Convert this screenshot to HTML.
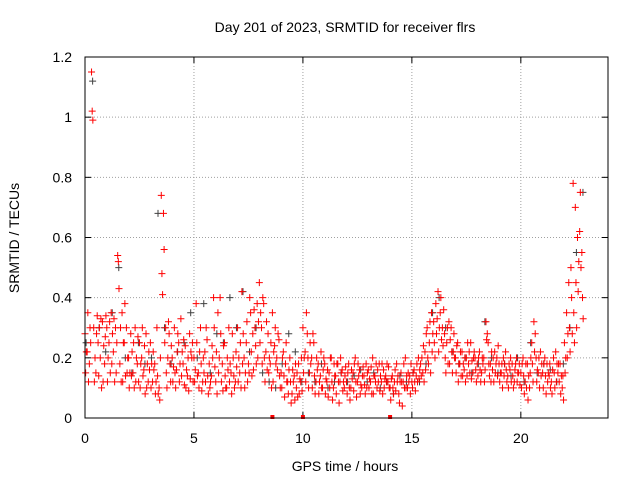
<!DOCTYPE html>
<html><head><meta charset="utf-8"><style>
html,body{margin:0;padding:0;background:#fff}
svg{display:block;font-family:"Liberation Sans",sans-serif}
</style></head><body>
<svg id="chart" width="640" height="480">
<text x="345" y="32" font-size="14" text-anchor="middle">Day 201 of 2023, SRMTID for receiver flrs</text>
<text x="345" y="471" font-size="14" text-anchor="middle">GPS time / hours</text>
<text transform="translate(19,238) rotate(-90)" font-size="14" text-anchor="middle">SRMTID / TECUs</text>
<g id="grid"></g><g id="ticks"></g><g id="marks"></g>
<rect x="85" y="57" width="523" height="361" fill="none" stroke="#000" stroke-width="1"/>
</svg>
<script>
const xTicks=[0,5,10,15,20];
const yTicks=[0,0.2,0.4,0.6,0.8,1,1.2];
const yTickLabels=["0","0.2","0.4","0.6","0.8","1","1.2"];
const redStep=0.1;
const redA=[.28,.22,.18,1.15,.30,.15,.25,.20,.32,.18, .30,.25,.35,.22,.30,.54,.18,.35,.25,.30, .20,.28,.15,.30,.18,.25,.20,.16,.28,.12, .25,.12,.18,.30,.10,.74,.68,.30,.20,.18, .20,.30,.16,.25,.33,.18,.24,.14,.28,.20, .20,.38,.15,.30,.12,.22,.26,.18,.14,.40, .12,.35,.40,.18,.25,.10,.30,.15,.20,.12, .30,.15,.42,.20,.25,.18,.35,.28,.30,.38, .45,.30,.38,.22,.28,.18,.35,.24,.20,.26, .15,.22,.18,.12,.20,.08,.14,.10,.18,.12, .30,.22,.28,.15,.20,.25,.12,.18,.14,.10, .18,.12,.15,.20,.10,.14,.18,.12,.16,.10, .12,.18,.10,.15,.20,.12,.16,.10,.14,.18, .16,.12,.20,.14,.10,.18,.12,.16,.14,.12, .10,.14,.12,.18,.08,.15,.12,.20,.10,.14, .12,.16,.14,.20,.18,.15,.22,.30,.25,.35, .32,.38,.42,.35,.30,.28,.25,.32,.30,.22, .20,.25,.18,.22,.16,.20,.18,.25,.15,.20, .18,.22,.15,.20,.32,.25,.18,.16,.22,.20, .18,.15,.20,.22,.14,.16,.18,.12,.20,.15, .15,.20,.12,.18,.10,.25,.32,.20,.15,.22, .15,.20,.18,.14,.12,.20,.22,.15,.18,.10, .25,.35,.45,.50,.78,.70,.60,.62,.55];
const redB=[.15,.35,.30,1.02,.12,.28,.14,.33,.12,.27, .12,.32,.18,.33,.15,.52,.30,.12,.38,.15, .10,.14,.25,.12,.27,.10,.30,.24,.10,.22, .10,.22,.08,.14,.06,.48,.56,.15,.32,.12, .12,.15,.22,.12,.14,.26,.10,.20,.13,.25, .12,.25,.10,.18,.20,.12,.14,.10,.24,.30, .22,.15,.28,.09,.14,.20,.12,.08,.14,.22, .12,.25,.18,.10,.32,.15,.22,.16,.24,.20, .25,.18,.20,.32,.15,.25,.12,.30,.16,.14, .10,.14,.25,.08,.12,.16,.06,.15,.08,.20, .15,.12,.20,.25,.10,.14,.20,.08,.22,.16, .08,.16,.10,.12,.18,.08,.12,.20,.09,.14, .08,.10,.16,.09,.12,.18,.08,.14,.11,.10, .10,.17,.08,.12,.16,.09,.18,.10,.12,.17, .06,.10,.16,.12,.05,.12,.18,.10,.15,.08, .10,.12,.18,.13,.14,.24,.16,.20,.32,.22, .25,.28,.22,.40,.24,.20,.30,.18,.22,.28, .15,.12,.22,.14,.20,.14,.22,.13,.20,.16, .14,.16,.20,.12,.26,.18,.12,.20,.15,.14, .12,.18,.14,.16,.10,.20,.14,.16,.12,.18, .10,.14,.18,.06,.15,.18,.22,.12,.20,.14, .10,.14,.12,.18,.08,.15,.12,.18,.08,.14, .15,.20,.30,.40,.35,.45,.42,.75,.40];
const redC=[.22,.12,.25,.99,.20,.34,.30,.10,.24,.34, .20,.15,.28,.12,.25,.43,.12,.25,.14,.20, .15,.22,.10,.20,.12,.18,.14,.08,.18,.16, .18,.16,.12,.08,.20,.41,.25,.10,.28,.24, .17,.10,.28,.18,.22,.11,.16,.09,.22,.12, .16,.14,.22,.09,.15,.30,.08,.12,.20,.17, .08,.20,.12,.24,.10,.16,.18,.28,.10,.17, .20,.10,.28,.15,.12,.40,.14,.36,.18,.32, .35,.40,.12,.16,.20,.10,.22,.18,.28,.10, .20,.07,.12,.16,.05,.12,.18,.07,.13,.09, .20,.35,.10,.18,.28,.08,.16,.12,.10,.20, .13,.07,.20,.06,.14,.18,.05,.15,.12,.17, .15,.06,.13,.18,.07,.14,.11,.17,.08,.15, .13,.08,.14,.18,.12,.14,.08,.13,.18,.10, .13,.08,.09,.14,.12,.04,.10,.14,.12,.18, .15,.09,.12,.16,.20,.12,.28,.18,.15,.28, .20,.33,.30,.26,.36,.15,.18,.26,.15,.20, .24,.18,.14,.18,.12,.25,.15,.19,.22,.12, .20,.12,.18,.16,.28,.14,.22,.12,.18,.24, .15,.10,.18,.12,.18,.12,.10,.18,.15,.11, .18,.08,.10,.14,.20,.12,.28,.16,.10,.18, .18,.08,.15,.10,.16,.10,.18,.12,.14,.06, .20,.28,.22,.28,.25,.30,.52,.50,.33];
const darkStep=0.3;
const darkVals=[.25,1.12,.30,.22,.35,.50,.20,.15,.25,.18,.20,.68,.30,.18,.22,.25,.35,.20,.38,.15,.28,.25,.40,.30,.42,.22,.30,.15,.12,.10,.18,.28,.22,.12,.15,.12,.18,.10,.12,.15,.12,.14,.16,.12,.15,.10,.12,.08,.14,.12,.15,.12,.18,.35,.40,.30,.22,.18,.20,.15,.18,.32,.20,.15,.18,.14,.20,.12,.25,.15,.18,.16,.12,.18,.30,.55,.75];
const zeroMarkTimes=[8.6,10.0,14.0];

const X0=85,X1=608,Y0=418,Y1=57,XMAX=24,YMAX=1.2;
const sx=t=>X0+t/XMAX*(X1-X0);
const sy=v=>Y0-v/YMAX*(Y0-Y1);
const NS="http://www.w3.org/2000/svg";
function mk(tag,attrs,parent){const e=document.createElementNS(NS,tag);for(const k in attrs)e.setAttribute(k,attrs[k]);parent.appendChild(e);return e;}
const grid=document.getElementById('grid'),ticks=document.getElementById('ticks'),marks=document.getElementById('marks');
xTicks.forEach(t=>{
  const x=sx(t);
  if(t>0){const g=mk('line',{x1:x,y1:Y1,x2:x,y2:Y0,stroke:'#a0a0a0','stroke-dasharray':'1,2'},grid);
  
  }
  mk('line',{x1:x,y1:Y0,x2:x,y2:Y0-6,stroke:'#000'},ticks);
  mk('line',{x1:x,y1:Y1,x2:x,y2:Y1+6,stroke:'#000'},ticks);
  const l=mk('text',{x:x,y:443,'font-size':14,'text-anchor':'middle'},ticks);l.textContent=t;
  
  
});
yTicks.forEach((v,i)=>{
  const y=sy(v);
  if(v>0&&v<YMAX){const g=mk('line',{x1:X0,y1:y,x2:X1,y2:y,stroke:'#a0a0a0','stroke-dasharray':'1,2'},grid);
  
  }
  mk('line',{x1:X0,y1:y,x2:X0+6,y2:y,stroke:'#000'},ticks);
  mk('line',{x1:X1,y1:y,x2:X1-6,y2:y,stroke:'#000'},ticks);
  const l=mk('text',{x:72,y:y+5,'font-size':14,'text-anchor':'end'},ticks);l.textContent=yTickLabels[i];
  
  
});
function plus(t,v,color,name){
  const x=sx(t),y=sy(v);
  const p=mk('path',{d:`M${x-3.5} ${y}H${x+3.5}M${x} ${y-3.5}V${y+3.5}`,stroke:color,'stroke-width':1,fill:'none'},marks);
  
  
}
darkVals.forEach((v,i)=>plus(i*darkStep+0.05,v,'#404040','dark-point'));
[redA,redB,redC].forEach((arr,k)=>arr.forEach((v,i)=>plus(i*redStep+k*0.03,v,'#ff0000','red-point')));
zeroMarkTimes.forEach(t=>{
  const r=mk('rect',{x:sx(t)-2,y:Y0-3,width:4,height:4,fill:'#ff0000'},marks);
  
  
});
</script>
</body></html>
